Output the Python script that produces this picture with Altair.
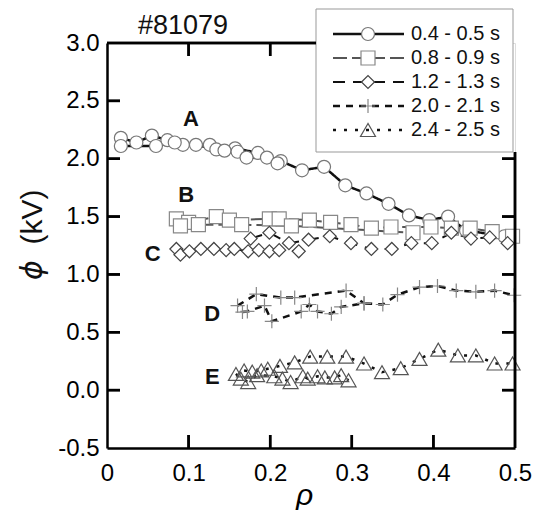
import altair as alt
import pandas as pd

# ---------------- data ----------------
series_names = ["0.4 - 0.5 s", "0.8 - 0.9 s", "1.2 - 1.3 s", "2.0 - 2.1 s", "2.4 - 2.5 s"]

# A : 0.4 - 0.5 s (two sweeps)
rho_A1 = [0.017, 0.036, 0.055, 0.074, 0.093, 0.126, 0.157, 0.185, 0.213, 0.239, 0.266, 0.292, 0.318, 0.345, 0.370, 0.395, 0.418, 0.440, 0.487]
phi_A1 = [2.18, 2.14, 2.20, 2.16, 2.12, 2.12, 2.09, 2.05, 1.98, 1.90, 1.93, 1.77, 1.70, 1.61, 1.51, 1.47, 1.50, 1.38, 1.33]
rho_A2 = [0.017, 0.060, 0.083, 0.109, 0.134, 0.144, 0.160, 0.171, 0.196, 0.209]
phi_A2 = [2.11, 2.11, 2.14, 2.12, 2.08, 2.07, 2.06, 2.01, 2.01, 1.96]

# B : 0.8 - 0.9 s
rho_B1 = [0.085, 0.100, 0.134, 0.150, 0.199, 0.211, 0.248, 0.274, 0.299, 0.324, 0.348, 0.397, 0.422, 0.445, 0.472, 0.497]
phi_B1 = [1.48, 1.45, 1.50, 1.47, 1.48, 1.48, 1.47, 1.45, 1.43, 1.40, 1.41, 1.41, 1.40, 1.40, 1.37, 1.33]
rho_B2 = [0.090, 0.112, 0.165, 0.226, 0.375]
phi_B2 = [1.42, 1.43, 1.43, 1.42, 1.36]

# C : 1.2 - 1.3 s
rho_C1 = [0.085, 0.090, 0.101, 0.115, 0.131, 0.146, 0.156, 0.173, 0.186, 0.199, 0.211, 0.235]
phi_C1 = [1.22, 1.17, 1.20, 1.22, 1.22, 1.21, 1.22, 1.20, 1.21, 1.20, 1.21, 1.20]
rho_C2 = [0.176, 0.199, 0.223, 0.247, 0.273, 0.299, 0.324, 0.349, 0.373, 0.398, 0.422, 0.446, 0.469, 0.491]
phi_C2 = [1.31, 1.36, 1.27, 1.30, 1.33, 1.27, 1.22, 1.22, 1.27, 1.27, 1.36, 1.31, 1.32, 1.27]

# D : 2.0 - 2.1 s
rho_D1 = [0.160, 0.183, 0.213, 0.230, 0.293, 0.315]
phi_D1 = [0.73, 0.83, 0.80, 0.80, 0.86, 0.75]
rho_D2 = [0.166, 0.172, 0.193, 0.202, 0.238, 0.248, 0.258, 0.275, 0.287, 0.315, 0.338, 0.356, 0.383, 0.405, 0.428, 0.452, 0.475, 0.499]
phi_D2 = [0.675, 0.68, 0.73, 0.595, 0.68, 0.74, 0.68, 0.66, 0.72, 0.75, 0.74, 0.825, 0.89, 0.90, 0.86, 0.85, 0.86, 0.82]

# E : 2.4 - 2.5 s
rho_E1 = [0.168, 0.178, 0.189, 0.197, 0.212, 0.230, 0.249, 0.270, 0.293, 0.315, 0.337, 0.360, 0.383, 0.406, 0.430, 0.452, 0.475, 0.497]
phi_E1 = [0.17, 0.16, 0.17, 0.185, 0.21, 0.24, 0.29, 0.29, 0.29, 0.23, 0.155, 0.19, 0.27, 0.35, 0.30, 0.30, 0.23, 0.23]
rho_E2 = [0.158, 0.164, 0.173, 0.184, 0.205, 0.215, 0.225, 0.240, 0.246, 0.258, 0.267, 0.279, 0.287, 0.296]
phi_E2 = [0.14, 0.10, 0.07, 0.13, 0.12, 0.10, 0.07, 0.12, 0.10, 0.12, 0.11, 0.11, 0.13, 0.085]

# curve labels
label_text = ["A", "B", "C", "D", "E"]
label_rho = [0.103, 0.097, 0.056, 0.129, 0.129]
label_phi = [2.34, 1.69, 1.18, 0.66, 0.11]

title_text = "#81079"
ytitle_symbol = "\u03d5"
ytitle_unit = "(kV)"
xtitle = "\u03c1"

x_ticks = [0.0, 0.1, 0.2, 0.3, 0.4, 0.5]
y_ticks = [-0.5, 0.0, 0.5, 1.0, 1.5, 2.0, 2.5, 3.0]
bottom_ticks = [0.1, 0.2, 0.3, 0.4]
top_ticks = [0.1, 0.2]                       # the others sit under the legend box
left_ticks = [0.0, 0.5, 1.0, 1.5, 2.0, 2.5]
right_ticks = [0.0, 0.5, 1.0, 1.5, 2.0]      # 2.5 sits under the legend box

# ---------------- build tables ----------------
rows = []
def add(series, sweep, rhos, phis):
    for r, p in zip(rhos, phis):
        rows.append({"rho": r, "phi": p, "series": series, "sweep": f"{series}|{sweep}"})

add(series_names[0], 1, rho_A1, phi_A1)
add(series_names[0], 2, rho_A2, phi_A2)
add(series_names[1], 1, rho_B1, phi_B1)
add(series_names[1], 2, rho_B2, phi_B2)
add(series_names[2], 1, rho_C1, phi_C1)
add(series_names[2], 2, rho_C2, phi_C2)
add(series_names[3], 1, rho_D1, phi_D1)
add(series_names[3], 2, rho_D2, phi_D2)
add(series_names[4], 1, rho_E1, phi_E1)
add(series_names[4], 2, rho_E2, phi_E2)
df = pd.DataFrame(rows)

labels_df = pd.DataFrame({"t": label_text, "rho": label_rho, "phi": label_phi})
legend_df = pd.DataFrame({"series": series_names})

W, H = 408, 405
TICK = 13
LEG_X0, LEG_X1, LEG_Y0, LEG_Y1 = 209, 406, -34, 109
FONT = "Liberation Sans"

x_scale = alt.Scale(domain=[0, 0.5], nice=False, zero=False)
y_scale = alt.Scale(domain=[-0.5, 3.0], nice=False, zero=False)

line_color = alt.Color("series:N", legend=None,
                       scale=alt.Scale(domain=series_names, range=["#111", "#555", "#111", "#111", "#111"]))
line_dash = alt.StrokeDash("series:N", legend=None,
                           scale=alt.Scale(domain=series_names, range=[[1, 0], [14, 5], [12, 8], [7, 6], [3, 8]]))
line_width = alt.StrokeWidth("series:N", legend=None,
                             scale=alt.Scale(type="ordinal", domain=series_names, range=[2.5, 2, 2, 2.5, 2.5]))
pt_shape = alt.Shape("series:N", legend=None,
                     scale=alt.Scale(domain=series_names,
                                     range=["circle", "square", "diamond", "M-1,0H1M0,-1V1", "triangle-up"]))
pt_stroke = alt.Stroke("series:N", legend=None,
                       scale=alt.Scale(domain=series_names, range=["#777", "#888", "#444", "#888", "#555"]))
pt_fill = alt.Fill("series:N", legend=None,
                   scale=alt.Scale(domain=series_names, range=["white", "white", "white", "transparent", "transparent"]))
pt_size = alt.Size("series:N", legend=None,
                   scale=alt.Scale(type="ordinal", domain=series_names, range=[169, 196, 169, 200, 225]))

x_main = alt.X("rho:Q", scale=x_scale, axis=alt.Axis(
    orient="bottom", values=x_ticks, ticks=False, tickSize=0, grid=False,
    labelExpr="datum.value == 0 ? '0' : format(datum.value, '.1f')",
    labelFontSize=24, labelPadding=13, labelFlush=False, labelColor="black", labelFont=FONT,
    domainWidth=2.5, domainColor="black",
    title=xtitle, titleFontSize=30, titleFontStyle="italic", titleFontWeight="normal",
    titleX=197, titleY=56, titleBaseline="alphabetic", titleAlign="center", titleColor="black", titleFont=FONT))
y_main = alt.Y("phi:Q", scale=y_scale, axis=alt.Axis(
    orient="left", values=y_ticks, ticks=False, tickSize=0, grid=False,
    labelExpr="datum.value < 0 ? '-' + format(-datum.value, '.1f') : format(datum.value, '.1f')",
    labelFontSize=24, labelPadding=8, labelFlush=False, labelColor="black", labelFont=FONT,
    domainWidth=2.5, domainColor="black", title=None))

base = alt.Chart(df)
lines = base.mark_line().encode(x=x_main, y=y_main, detail="sweep:N",
                                color=line_color, strokeDash=line_dash, strokeWidth=line_width)
points = base.mark_point(filled=True, strokeWidth=1.2, opacity=1).encode(
    x=alt.X("rho:Q", scale=x_scale), y=alt.Y("phi:Q", scale=y_scale),
    shape=pt_shape, stroke=pt_stroke, fill=pt_fill, size=pt_size)
curve_labels = alt.Chart(labels_df).mark_text(fontSize=22, fontWeight="bold", font=FONT, color="#111").encode(
    x=alt.X("rho:Q", scale=x_scale), y=alt.Y("phi:Q", scale=y_scale), text="t:N")

title_mark = alt.Chart(pd.DataFrame({"t": [title_text]})).mark_text(
    fontSize=27, font=FONT, color="#111", align="center", baseline="alphabetic").encode(
    x=alt.value(76), y=alt.value(-9), text="t:N")
yt_sym = alt.Chart(pd.DataFrame({"t": [ytitle_symbol]})).mark_text(
    fontSize=30, font="DejaVu Sans", fontStyle="italic", color="#111", angle=270,
    align="center", baseline="middle").encode(x=alt.value(-74), y=alt.value(227), text="t:N")
yt_unit = alt.Chart(pd.DataFrame({"t": [ytitle_unit]})).mark_text(
    fontSize=30, font=FONT, color="#111", angle=270,
    align="center", baseline="middle").encode(x=alt.value(-74), y=alt.value(174), text="t:N")

# ---------------- legend (one row per series) ----------------
LEG_TOP, LEG_STEP = -9, 24
leg_box = alt.Chart(pd.DataFrame({"b": [0]})).mark_rect(fill="white", stroke="#999", strokeWidth=1).encode(
    x=alt.value(LEG_X0), x2=alt.value(LEG_X1), y=alt.value(LEG_Y0), y2=alt.value(LEG_Y1))
leg_layers = [leg_box]
for i, name in enumerate(series_names):
    row = alt.Chart(legend_df).transform_filter(alt.datum.series == name)
    yv = alt.value(LEG_TOP + LEG_STEP * i)
    leg_layers.append(row.mark_rule().encode(
        x=alt.value(226), x2=alt.value(297), y=yv,
        color=line_color, strokeDash=line_dash, strokeWidth=line_width))
    leg_layers.append(row.mark_point(filled=True, strokeWidth=1.2, opacity=1).encode(
        x=alt.value(261), y=yv, shape=pt_shape, stroke=pt_stroke, fill=pt_fill, size=pt_size))
    leg_layers.append(row.mark_text(align="left", baseline="middle", fontSize=20, font=FONT, color="#111").encode(
        x=alt.value(304), y=yv, text="series:N"))

# ---------------- inward ticks and top/right frame (drawn last, outside the legend box) ----------------
def tick_rules(values, axis):
    d = pd.DataFrame({"v": values})
    ch = alt.Chart(d).mark_rule(color="black", strokeWidth=2.5, strokeCap="butt")
    if axis == "bottom":
        return ch.encode(x=alt.X("v:Q", scale=x_scale), y=alt.value(H), y2=alt.value(H - TICK))
    if axis == "top":
        return ch.encode(x=alt.X("v:Q", scale=x_scale), y=alt.value(0), y2=alt.value(TICK))
    if axis == "left":
        return ch.encode(y=alt.Y("v:Q", scale=y_scale), x=alt.value(0), x2=alt.value(TICK))
    return ch.encode(y=alt.Y("v:Q", scale=y_scale), x=alt.value(W), x2=alt.value(W - TICK))

# the same ticks as stroked symbols (a second way of drawing them)
def tick_symbols(values, axis):
    d = pd.DataFrame({"v": values})
    shapes = {"bottom": "M0,0V-2", "top": "M0,0V2", "left": "M0,0H2", "right": "M0,0H-2"}
    ch = alt.Chart(d).mark_point(shape=shapes[axis], size=TICK * TICK, filled=False,
                                 stroke="black", strokeWidth=2.5, opacity=1)
    if axis == "bottom":
        return ch.encode(x=alt.X("v:Q", scale=x_scale), y=alt.value(H))
    if axis == "top":
        return ch.encode(x=alt.X("v:Q", scale=x_scale), y=alt.value(0))
    if axis == "left":
        return ch.encode(y=alt.Y("v:Q", scale=y_scale), x=alt.value(0))
    return ch.encode(y=alt.Y("v:Q", scale=y_scale), x=alt.value(W))

one = pd.DataFrame({"b": [1]})
frame_top = alt.Chart(one).mark_rule(color="black", strokeWidth=2.5).encode(
    x=alt.value(0), x2=alt.value(LEG_X0), y=alt.value(0))
frame_right = alt.Chart(one).mark_rule(color="black", strokeWidth=2.5).encode(
    x=alt.value(W), y=alt.value(LEG_Y1), y2=alt.value(H))
frame_top_sym = alt.Chart(one).mark_point(shape="M0,0H2", size=LEG_X0 * LEG_X0, filled=False,
                                          stroke="black", strokeWidth=2.5, opacity=1).encode(
    x=alt.value(0), y=alt.value(0))
frame_right_sym = alt.Chart(one).mark_point(shape="M0,0V2", size=(H - LEG_Y1) * (H - LEG_Y1), filled=False,
                                            stroke="black", strokeWidth=2.5, opacity=1).encode(
    x=alt.value(W), y=alt.value(LEG_Y1))

frame_layers = [
    tick_rules(bottom_ticks, "bottom"), tick_rules(top_ticks, "top"),
    tick_rules(left_ticks, "left"), tick_rules(right_ticks, "right"),
    tick_symbols(bottom_ticks, "bottom"), tick_symbols(top_ticks, "top"),
    tick_symbols(left_ticks, "left"), tick_symbols(right_ticks, "right"),
    frame_top, frame_right, frame_top_sym, frame_right_sym,
]

chart = alt.layer(
    lines, points, curve_labels, title_mark, yt_sym, yt_unit, *leg_layers, *frame_layers
).properties(
    width=W, height=H, padding={"left": 10, "top": 0, "right": 0, "bottom": 0}
).configure_view(stroke=None).configure(font=FONT)

chart.save("out.html", embed_options={"renderer": "svg", "actions": False})
